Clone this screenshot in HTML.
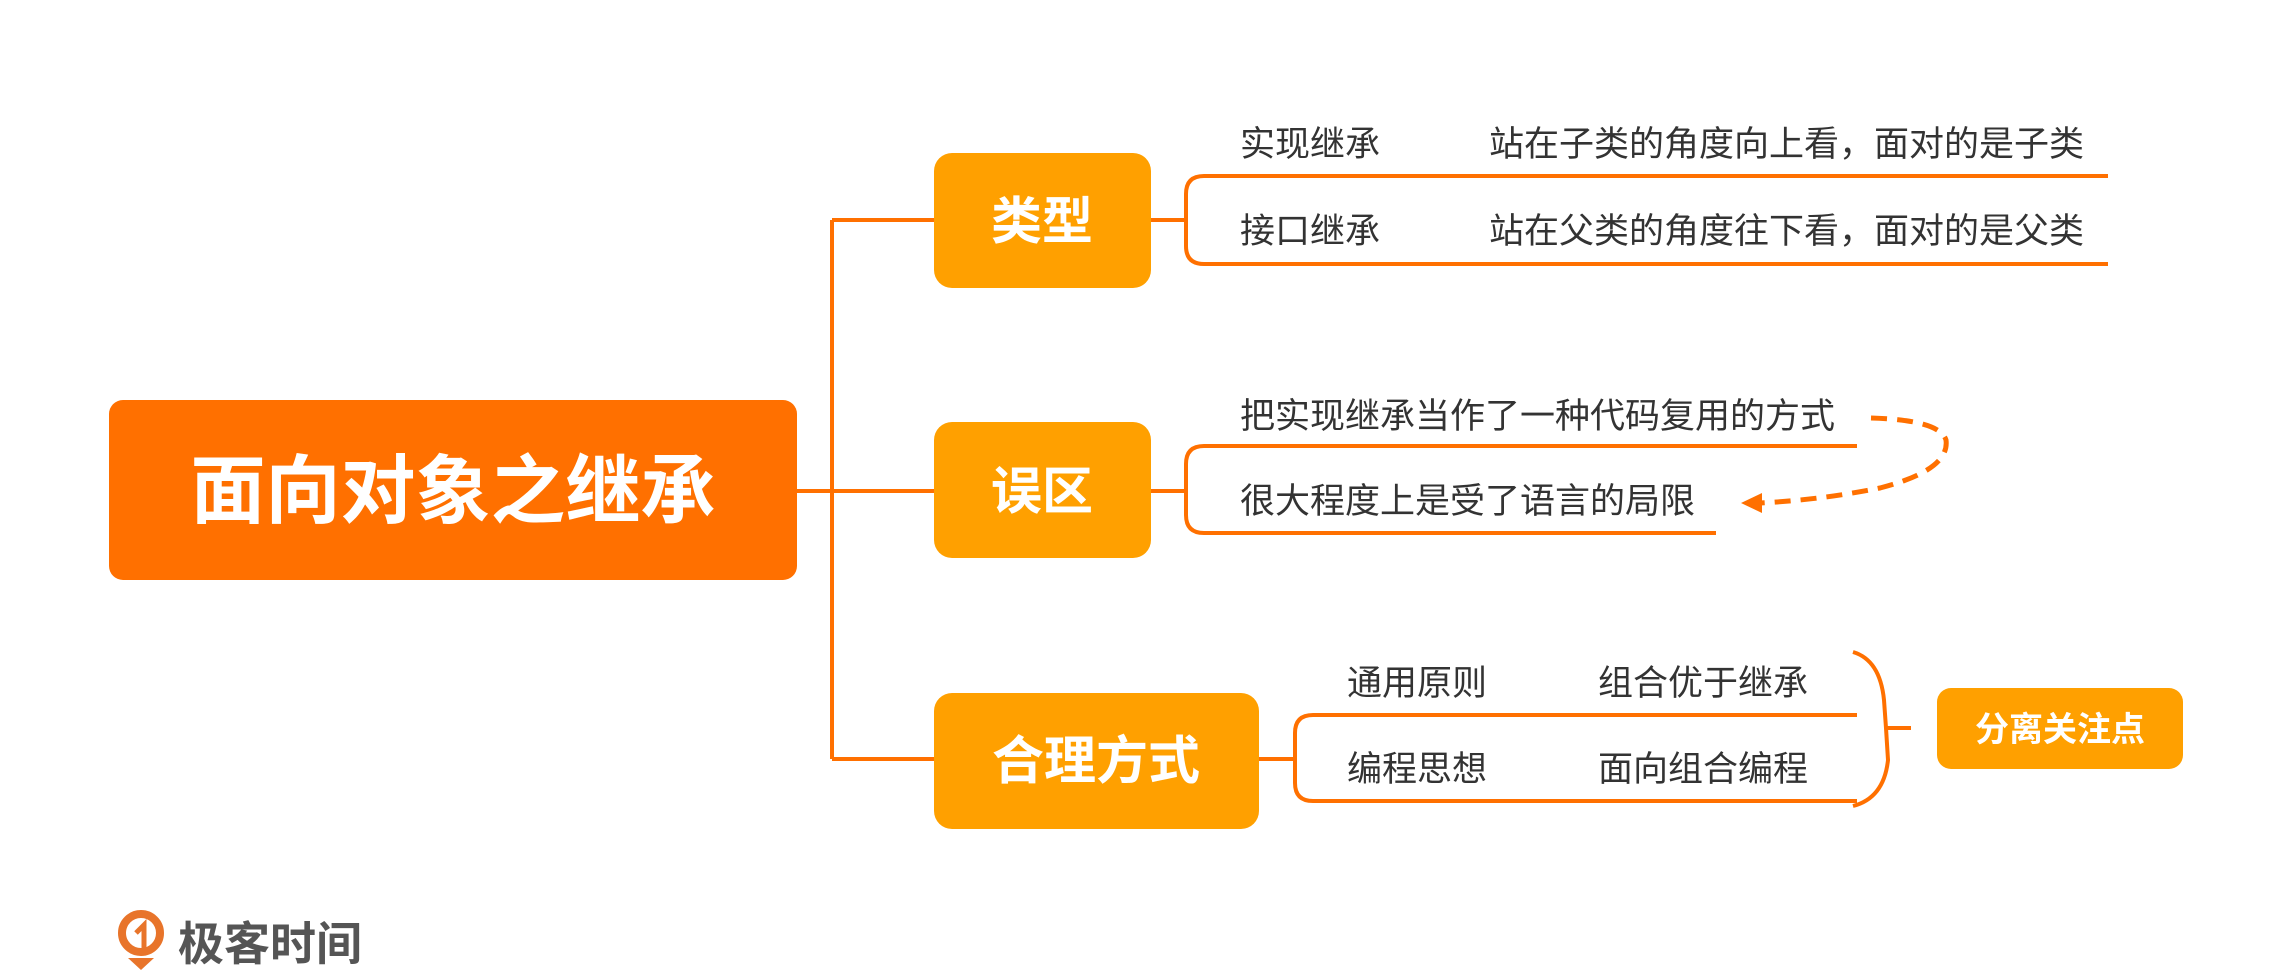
<!DOCTYPE html>
<html><head><meta charset="utf-8"><style>
html,body{margin:0;padding:0;background:#fff;}
svg text{font-family:"Liberation Sans","Noto Sans CJK SC",sans-serif;}
</style></head><body>
<svg width="2284" height="972" viewBox="0 0 2284 972" xmlns="http://www.w3.org/2000/svg">
<g fill="none" stroke="#FF7000" stroke-width="4">
<path d="M797 491 H832 M832 220 V759 M832 220 H934 M832 491 H934 M832 759 H934"/>
<path d="M1151 220 H1184 M2108 176 H1204 Q1186 176 1186 194 V246 Q1186 264 1204 264 H2108"/>
<path d="M1151 491 H1184 M1857 446 H1204 Q1186 446 1186 464 V515 Q1186 533 1204 533 H1716"/>
<path d="M1259 759 H1293 M1857 715 H1313 Q1295 715 1295 733 V783 Q1295 801 1313 801 H1857"/>
<path d="M1853 652 Q1880 660 1884 700 L1886 728 L1888 760 Q1884 798 1853 806 M1886 728 H1911"/>
<path d="M1871 418 Q1940 420 1946 440 Q1950 470 1880 488 Q1820 500 1760 503" stroke-dasharray="16 10" stroke-width="5"/>
</g>
<path d="M1741 503 L1762 493 L1762 513 Z" fill="#FF7000"/>
<rect x="109" y="400" width="688" height="180" rx="14" fill="#FF7000"/>
<rect x="934" y="153" width="217" height="135" rx="18" fill="#FFA000"/>
<rect x="934" y="422" width="217" height="136" rx="18" fill="#FFA000"/>
<rect x="934" y="693" width="325" height="136" rx="18" fill="#FFA000"/>
<rect x="1937" y="688" width="246" height="81" rx="14" fill="#FFA000"/>
<g fill="#fff" font-weight="bold" text-anchor="middle">
<text x="453" y="517" font-size="75">面向对象之继承</text>
<text x="1042" y="239" font-size="51">类型</text>
<text x="1042" y="509" font-size="51">误区</text>
<text x="1096" y="779" font-size="52">合理方式</text>
<text x="2060" y="741" font-size="34">分离关注点</text>
</g>
<g fill="#333" font-size="35">
<text x="1240" y="156">实现继承</text>
<text x="1489" y="156">站在子类的角度向上看，面对的是子类</text>
<text x="1240" y="243">接口继承</text>
<text x="1489" y="243">站在父类的角度往下看，面对的是父类</text>
<text x="1240" y="428">把实现继承当作了一种代码复用的方式</text>
<text x="1240" y="513">很大程度上是受了语言的局限</text>
<text x="1347" y="695">通用原则</text>
<text x="1598" y="695">组合优于继承</text>
<text x="1347" y="781">编程思想</text>
<text x="1598" y="781">面向组合编程</text>
</g>
<circle cx="141" cy="933" r="19" fill="none" stroke="#E8742A" stroke-width="8"/>
<path d="M128 958 L141 970 L154 958 Z" fill="#E8742A"/>
<path d="M136 933 L144 925 L144 955" fill="none" stroke="#E8742A" stroke-width="5"/>
<text x="178" y="960" font-size="46" font-weight="bold" fill="#555">极客时间</text>
</svg>
</body></html>
